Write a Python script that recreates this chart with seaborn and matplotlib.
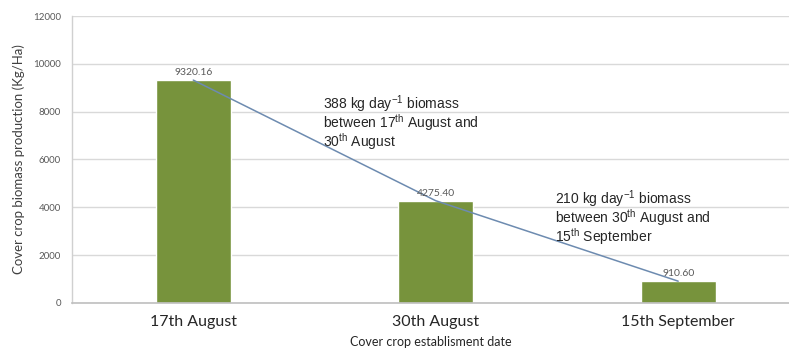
import matplotlib
matplotlib.use("Agg")
import matplotlib.pyplot as plt
import seaborn as sns
import pandas as pd

dates = ["17th August", "30th August", "15th September"]
biomass = [9320.16, 4275.40, 910.60]
value_labels = ["9320.16", "4275.40", "910.60"]
y_ticks = [0, 2000, 4000, 6000, 8000, 10000, 12000]
note1 = ["388 kg day$^{\\mathregular{-1}}$ biomass",
         "between 17$^{\\mathregular{th}}$ August and",
         "30$^{\\mathregular{th}}$ August"]
note2 = ["210 kg day$^{\\mathregular{-1}}$ biomass",
         "between 30$^{\\mathregular{th}}$ August and",
         "15$^{\\mathregular{th}}$ September"]

sns.set_theme(style="white")
plt.rcParams['font.family'] = ['Lato', 'DejaVu Sans']
plt.rcParams['mathtext.fontset'] = 'custom'
plt.rcParams['mathtext.rm'] = 'Liberation Sans'
plt.rcParams['mathtext.it'] = 'Liberation Sans:italic'
plt.rcParams['mathtext.bf'] = 'Liberation Sans:bold'

df = pd.DataFrame({"date": dates, "biomass": biomass, "pos": range(len(dates))})

fig = plt.figure(figsize=(7.89, 3.56), dpi=100)
ax = fig.add_axes([0.0913, 0.149, 0.9087, 0.806])

ax.set_axisbelow(True)
ax.yaxis.grid(True, color="#d9d9d9", linewidth=1)
sns.barplot(data=df, x="date", y="biomass", color="#77933c", width=0.31,
            saturation=1, ax=ax, zorder=2)
sns.lineplot(data=df, x="pos", y="biomass", color="#6d8bb0", linewidth=1.1,
             ax=ax, zorder=3)

for i, (v, lab) in enumerate(zip(biomass, value_labels)):
    ax.text(i, v + 120, lab, ha="center", va="bottom", fontsize=7.5, color="#595959")

step = 775
for k, line in enumerate(note1):
    ax.text(0.535, 8300 - k * step, line, fontsize=10, family="Liberation Sans",
            color="#262626", va="center", ha="left")
for k, line in enumerate(note2):
    ax.text(1.49, 4330 - k * step, line, fontsize=10, family="Liberation Sans",
            color="#262626", va="center", ha="left")

ax.set_ylim(0, 12000)
ax.set_xlim(-0.5, 2.457)
ax.set_yticks(y_ticks)
ax.set_yticklabels([str(t) for t in y_ticks], fontsize=7, color="#595959")
ax.tick_params(axis="x", labelsize=11.5, colors="#262626", pad=9, length=0)
ax.tick_params(axis="y", length=0, pad=8)
ax.set_xlabel("Cover crop establisment date", fontsize=9, color="#262626", labelpad=5)
ax.set_ylabel("Cover crop biomass production (Kg/Ha)", fontsize=9.5, color="#404040", labelpad=6)

for s in ["top", "right"]:
    ax.spines[s].set_visible(False)
ax.spines["left"].set_color("#d0d0d0")
ax.spines["bottom"].set_color("#bfbfbf")
ax.spines["left"].set_linewidth(1)
ax.spines["bottom"].set_linewidth(1.2)

fig.savefig("out.png", dpi=100)
